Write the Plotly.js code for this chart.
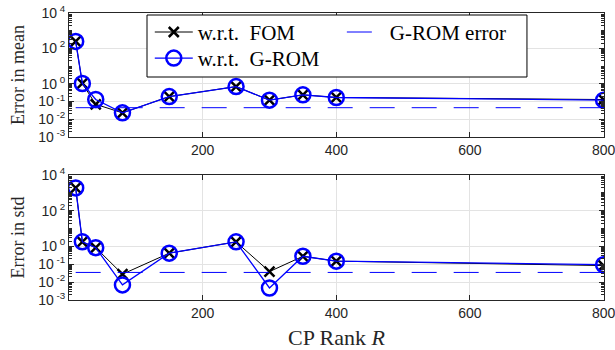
<!DOCTYPE html>
<html>
<head>
<meta charset="utf-8">
<script src="https://cdn.plot.ly/plotly-3.0.1.min.js"></script>
<style>html,body{margin:0;padding:0;background:#fff;}#chart{width:615px;height:350px;}</style>
</head>
<body>
<div id="chart"></div>
<script>
// CP ranks
const ranks = [10, 20, 40, 80, 150, 250, 300, 350, 400, 800];
// Error in mean
const meanFOM  = [250, 1.05, 0.07, 0.023, 0.19, 0.7, 0.12, 0.24, 0.17, 0.13];
const meanGROM = [250, 1.05, 0.13, 0.023, 0.19, 0.7, 0.12, 0.24, 0.17, 0.12];
const meanGROMErr = 0.045;
// Error in std
const stdFOM  = [1900, 1.8, 0.85, 0.028, 0.42, 1.8, 0.039, 0.28, 0.15, 0.085];
const stdGROM = [1900, 1.8, 0.85, 0.007, 0.42, 1.8, 0.0047, 0.28, 0.15, 0.095];
const stdGROMErr = 0.035;
// reference line ends
const errX = [10, 800];
// tick labels
const yTickVals = [1e-3, 1e-2, 1e-1, 1, 1e2, 1e4];
const yTickText = ['10<sup> -3</sup>', '10<sup> -2</sup>', '10<sup> -1</sup>', '10<sup> 0</sup>', '10<sup> 2</sup>', '10<sup> 4</sup>'];
const xTickVals = [200, 400, 600, 800];
const xTickText = ['200', '400', '600', '800'];

const BLUE = '#0000ff';
const AX = '#262626';

function fomTrace(y, xa, ya, show, lg) {
  return {x: ranks, y: y, xaxis: xa, yaxis: ya, type: 'scatter', mode: 'lines+markers',
    name: 'w.r.t.\u00a0 FOM', showlegend: show, legend: lg,
    line: {color: '#000', width: 1},
    marker: {symbol: 'x-thin-open', size: 10, color: '#000', line: {color: '#000', width: 2.5}}};
}
function gromTrace(y, xa, ya, show, lg) {
  return {x: ranks, y: y, xaxis: xa, yaxis: ya, type: 'scatter', mode: 'lines+markers',
    name: 'w.r.t.\u00a0 G-ROM', showlegend: show, legend: lg,
    line: {color: BLUE, width: 1.3},
    marker: {symbol: 'circle-open', size: 15, color: BLUE, line: {color: BLUE, width: 2.5}}};
}
function errTrace(v, xa, ya, show, lg) {
  return {x: errX, y: [v, v], xaxis: xa, yaxis: ya, type: 'scatter', mode: 'lines',
    name: 'G-ROM error', showlegend: show, legend: lg,
    line: {color: BLUE, width: 1, dash: '25px,17px'}};
}

// error lines sit on the overlaying (minor-tick) axes, which share the same log range
const data = [
  errTrace(meanGROMErr, 'x', 'y3', true, 'legend2'),
  fomTrace(meanFOM, 'x', 'y', true, 'legend'),
  gromTrace(meanGROM, 'x', 'y', true, 'legend3'),
  errTrace(stdGROMErr, 'x2', 'y4', false, 'legend'),
  fomTrace(stdFOM, 'x2', 'y2', false, 'legend'),
  gromTrace(stdGROM, 'x2', 'y2', false, 'legend')
];

const tickFont = {family: 'Liberation Sans, Arial, sans-serif', size: 14, color: AX};
const serif = 'Liberation Serif, Times New Roman, serif';

function xAxis(anchor, withTitle) {
  const a = {anchor: anchor, range: [0, 800.6], tickmode: 'array', tickvals: xTickVals, ticktext: xTickText,
    ticks: 'inside', ticklen: 5, tickcolor: AX, showline: true, linecolor: AX, linewidth: 1, mirror: 'ticks',
    showgrid: true, gridcolor: '#e3e3e3', zeroline: false, tickfont: tickFont, automargin: false,
    ticklabeloverflow: 'allow'};
  if (withTitle) a.title = {text: 'CP Rank <i>R</i>', font: {family: serif, size: 22, color: AX}, standoff: 9};
  return a;
}
function yAxis(anchor, domain, title) {
  return {anchor: anchor, domain: domain, type: 'log', range: [-3, 4], tickmode: 'array',
    tickvals: yTickVals, ticktext: yTickText, ticks: 'inside', ticklen: 5, tickcolor: AX,
    showline: true, linecolor: AX, linewidth: 1, mirror: 'ticks', showgrid: true, gridcolor: '#e3e3e3',
    zeroline: false, tickfont: tickFont, automargin: false,
    title: {text: title, font: {family: serif, size: 18, color: AX}, standoff: 8}};
}
function minorAxis(anchor, over) {
  return {anchor: anchor, overlaying: over, type: 'log', range: [-3, 4], dtick: 'D1',
    ticks: 'inside', ticklen: 3, tickcolor: AX, tickwidth: 1, showticklabels: false,
    showline: false, mirror: 'ticks', showgrid: false, zeroline: false, automargin: false};
}

const legFont = {family: serif, size: 21, color: '#000'};
const layout = {
  width: 615, height: 350,
  margin: {l: 69, r: 11, t: 13, b: 50},
  paper_bgcolor: '#fff', plot_bgcolor: '#fff',
  xaxis: xAxis('y', false),
  yaxis: yAxis('x', [0.568, 1], 'Error in mean'),
  xaxis2: xAxis('y2', true),
  yaxis2: yAxis('x2', [0, 0.4355], 'Error in std'),
  yaxis3: minorAxis('x', 'y'),
  yaxis4: minorAxis('x2', 'y2'),
  showlegend: true,
  shapes: [
    {type: 'rect', xref: 'paper', yref: 'paper', x0: 0.1458, x1: 0.856, y0: 0.777, y1: 0.993,
     fillcolor: '#fff', line: {color: '#000', width: 1}, layer: 'above'}
  ],
  legend: {orientation: 'v', x: 0.151, y: 1.004, xanchor: 'left', yanchor: 'top',
    bgcolor: 'rgba(0,0,0,0)', borderwidth: 0, font: legFont, itemwidth: 38},
  legend2: {orientation: 'v', x: 0.51, y: 1.004, xanchor: 'left', yanchor: 'top',
    bgcolor: 'rgba(0,0,0,0)', borderwidth: 0, font: legFont, itemwidth: 38},
  legend3: {orientation: 'v', x: 0.151, y: 0.913, xanchor: 'left', yanchor: 'top',
    bgcolor: 'rgba(0,0,0,0)', borderwidth: 0, font: legFont, itemwidth: 38}
};

Plotly.newPlot('chart', data, layout, {staticPlot: true, displayModeBar: false});
</script>
</body>
</html>
